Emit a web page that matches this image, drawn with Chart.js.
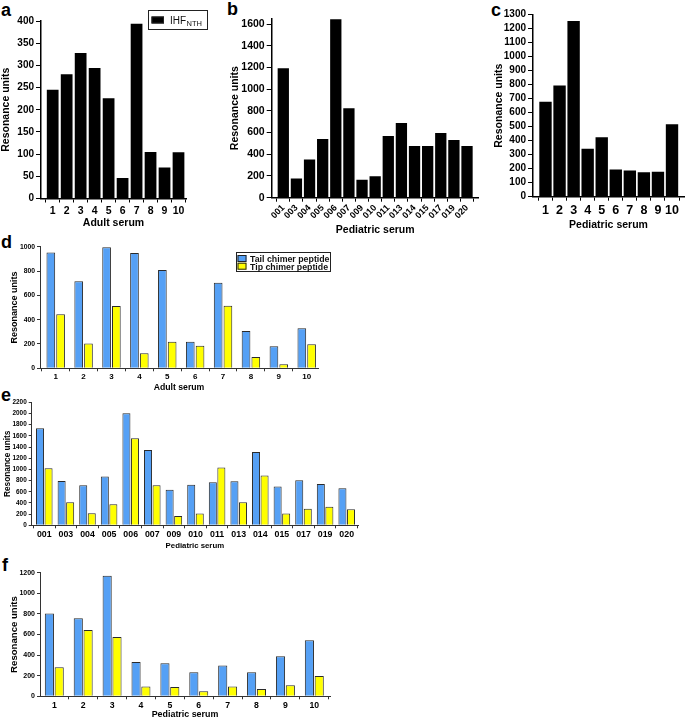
<!DOCTYPE html>
<html>
<head>
<meta charset="utf-8">
<script src="https://cdn.jsdelivr.net/npm/chart.js@4.4.1/dist/chart.umd.min.js"></script>
<style>
    body { margin: 0; background: #fff; }
    #fig { position: relative; width: 685px; height: 720px; overflow: hidden; font-family: "Liberation Sans", Arial, sans-serif; }
    #fig canvas { position: absolute; }
    .letter { position: absolute; font-weight: bold; font-size: 18px; line-height: 1; color: #000; }
</style>
</head>
<body>
<div id="fig">
    <div class="letter" style="left:1px;top:1px;">a</div>
    <div class="letter" style="left:227px;top:0px;">b</div>
    <div class="letter" style="left:491px;top:1px;">c</div>
    <div class="letter" style="left:1px;top:233px;">d</div>
    <div class="letter" style="left:1px;top:386px;">e</div>
    <div class="letter" style="left:2px;top:556px;">f</div>

    <canvas id="chartA" width="225" height="235" style="left:0;top:0;"></canvas>
    <canvas id="chartB" width="260" height="240" style="left:225px;top:0;"></canvas>
    <canvas id="chartC" width="195" height="235" style="left:490px;top:0;"></canvas>
    <canvas id="chartD" width="340" height="160" style="left:0;top:235px;"></canvas>
    <canvas id="chartE" width="370" height="160" style="left:0;top:395px;"></canvas>
    <canvas id="chartF" width="340" height="160" style="left:0;top:560px;"></canvas>
</div>
<script>
// values
const adultLabels = ['1', '2', '3', '4', '5', '6', '7', '8', '9', '10'];
const pedLabels = ['001', '003', '004', '005', '006', '007', '009', '010', '011', '013', '014', '015', '017', '019', '020'];
const ped10Labels = ['1', '2', '3', '4', '5', '6', '7', '8', '9', '10'];

const adultIhf = [245, 280, 328, 294, 226, 46, 394, 105, 70, 104];
const pedIhf = [1192, 178, 353, 540, 1643, 823, 166, 197, 568, 688, 477, 477, 595, 532, 477];
const ped10Ihf = [679, 795, 1255, 343, 424, 195, 188, 174, 179, 517];

const adultTail = [953, 715, 995, 948, 808, 219, 704, 307, 181, 329];
const adultTip = [444, 203, 512, 123, 219, 186, 515, 93, 33, 197];
const pedTail = [1735, 793, 716, 871, 2004, 1348, 638, 727, 769, 787, 1312, 692, 805, 739, 662];
const pedTip = [1020, 411, 215, 376, 1556, 716, 167, 209, 1032, 411, 889, 209, 298, 334, 286];
const ped10Tail = [805, 757, 1171, 333, 320, 233, 298, 233, 388, 543];
const ped10Tip = [281, 644, 576, 94, 91, 49, 94, 71, 107, 197];

const FONT = '"Liberation Sans", Arial, sans-serif';
const BLUE = '#55a0f5';
const YELLOW = '#ffff00';

// draws the boxed legends (the IHF one needs a subscript)
const boxLegendPlugin = {
    id: 'boxLegend',
    afterDraw(chart, args, opts) {
        if (!opts || !opts.items) return;
        const ctx = chart.ctx;
        const b = opts.box;
        ctx.save();
        ctx.fillStyle = '#fff';
        ctx.fillRect(b.x, b.y, b.w, b.h);
        ctx.strokeStyle = '#222';
        ctx.lineWidth = 1;
        ctx.strokeRect(b.x + 0.5, b.y + 0.5, b.w, b.h);
        opts.items.forEach((it, i) => {
            const y = b.y + opts.rowTop + i * opts.rowH;
            ctx.fillStyle = it.color;
            ctx.fillRect(b.x + opts.swX, y, opts.swW, opts.swH);
            ctx.strokeStyle = '#222';
            ctx.strokeRect(b.x + opts.swX + 0.5, y + 0.5, opts.swW - 1, opts.swH - 1);
            ctx.fillStyle = '#111';
            ctx.textBaseline = 'alphabetic';
            ctx.font = opts.font;
            const tx = b.x + opts.textX;
            const ty = y + opts.swH;
            ctx.fillText(it.text, tx, ty);
            if (it.sub) {
                const w = ctx.measureText(it.text).width;
                ctx.font = opts.subFont;
                ctx.fillText(it.sub, tx + w + 0.5, ty + 2.5);
            }
        });
        ctx.restore();
    }
};

function makeChart(id, o) {
    const datasets = o.series.map(s => ({
        label: s.label,
        data: s.values.map((v, i) => ({ x: i + 1, y: v })),
        backgroundColor: s.color,
        borderColor: s.border,
        borderWidth: s.borderWidth,
        borderSkipped: 'bottom',
        categoryPercentage: o.catPct,
        barPercentage: o.barPct
    }));
    return new Chart(document.getElementById(id), {
        type: 'bar',
        data: { datasets },
        options: {
            responsive: false,
            animation: false,
            layout: { padding: { top: o.padTop, right: o.padRight, left: 0, bottom: 0 } },
            plugins: {
                legend: { display: false },
                tooltip: { enabled: false },
                boxLegend: o.legend || {}
            },
            scales: {
                x: {
                    type: 'linear',
                    min: o.xMin,
                    max: o.xMax,
                    offset: false,
                    grid: { display: true, drawOnChartArea: false, drawTicks: true, tickLength: o.xTickLen, color: o.axisColor, lineWidth: 1 },
                    border: { color: o.axisColor, width: o.axisWidth },
                    ticks: {
                        stepSize: 1,
                        includeBounds: false,
                        autoSkip: false,
                        minRotation: o.rot,
                        maxRotation: o.rot,
                        padding: o.xPad,
                        color: '#000',
                        font: { family: FONT, size: o.xFont, weight: 'bold' },
                        callback: v => o.labels[v - 1] || ''
                    },
                    title: {
                        display: true,
                        text: o.xTitle,
                        color: '#000',
                        font: { family: FONT, size: o.xTitleFont, weight: 'bold' },
                        padding: { top: 0, bottom: o.xTitlePad }
                    },
                    afterFit: s => { s.height = o.xH; }
                },
                y: {
                    min: 0,
                    max: o.yMax,
                    grid: { display: true, drawOnChartArea: false, drawTicks: true, tickLength: o.yTickLen, color: o.axisColor, lineWidth: 1 },
                    border: { color: o.axisColor, width: o.axisWidth },
                    ticks: {
                        stepSize: o.yStep,
                        includeBounds: false,
                        autoSkip: false,
                        padding: 2,
                        color: '#000',
                        font: { family: FONT, size: o.yFont, weight: 'bold' },
                        callback: v => String(v)
                    },
                    title: {
                        display: true,
                        text: 'Resonance units',
                        color: '#000',
                        font: { family: FONT, size: o.yTitleFont, weight: 'bold' },
                        padding: { top: o.yTitlePad, bottom: 0 }
                    },
                    afterFit: s => { s.width = o.yW; }
                }
            }
        },
        plugins: [boxLegendPlugin]
    });
}

const blackBar = values => [{ label: 'IHFNTHi', values, color: '#000', border: '#000', borderWidth: 0 }];
const pairBars = (tail, tip) => [
    { label: 'Tail chimer peptide', values: tail, color: BLUE, border: '#2a2a2a', borderWidth: 1 },
    { label: 'Tip chimer peptide', values: tip, color: YELLOW, border: '#2a2a2a', borderWidth: 1 }
];
const pairLegend = {
    box: { x: 236, y: 17, w: 94, h: 19 },
    rowTop: 3, rowH: 7.7, swX: 1.5, swW: 9, swH: 7, textX: 14,
    font: 'bold 8.8px ' + FONT,
    items: [{ text: 'Tail chimer peptide', color: BLUE }, { text: 'Tip chimer peptide', color: YELLOW }]
};

// a
makeChart('chartA', {
    labels: adultLabels, series: blackBar(adultIhf),
    xMin: 0.164, xMax: 10.536, catPct: 1, barPct: 0.84,
    yMax: 400, yStep: 50,
    padTop: 21, padRight: 39, xH: 36.5, yW: 41,
    xFont: 10.5, yFont: 10, xTitle: 'Adult serum', xTitleFont: 10.5, xTitlePad: 5.4,
    yTitleFont: 10.5, yTitlePad: 0, xTickLen: 4, yTickLen: 5, xPad: 2, rot: 0,
    axisColor: '#000', axisWidth: 1.5,
    legend: {
        box: { x: 148, y: 10, w: 59, h: 19 },
        rowTop: 6.5, rowH: 0, swX: 3.5, swW: 12.5, swH: 7, textX: 22,
        font: '10px ' + FONT, subFont: '7.5px ' + FONT,
        items: [{ text: 'IHF', sub: 'NTH', color: '#000' }]
    }
});

// b
makeChart('chartB', {
    labels: pedLabels, series: blackBar(pedIhf),
    xMin: 0.116, xMax: 15.89, catPct: 1, barPct: 0.86,
    yMax: 1650, yStep: 200,
    padTop: 18.6, padRight: 6.3, xH: 42.3, yW: 46.7,
    xFont: 9, yFont: 10.5, xTitle: 'Pediatric serum', xTitleFont: 10.5, xTitlePad: 3.7,
    yTitleFont: 10.5, yTitlePad: 3.7, xTickLen: 4, yTickLen: 5, xPad: 1, rot: 45,
    axisColor: '#000', axisWidth: 1.5
});

// c
makeChart('chartC', {
    labels: ped10Labels, series: blackBar(ped10Ihf),
    xMin: 0.111, xMax: 10.853, catPct: 1, barPct: 0.88,
    yMax: 1300, yStep: 100,
    padTop: 14.7, padRight: 1, xH: 38.3, yW: 43,
    xFont: 12.5, yFont: 10, xTitle: 'Pediatric serum', xTitleFont: 10.5, xTitlePad: 3.7,
    yTitleFont: 10.5, yTitlePad: 3, xTickLen: 4, yTickLen: 5, xPad: 2, rot: 0,
    axisColor: '#000', axisWidth: 1.5
});

// d
makeChart('chartD', {
    labels: adultLabels, series: pairBars(adultTail, adultTip),
    xMin: 0.437, xMax: 10.405, catPct: 0.70, barPct: 0.89,
    yMax: 1000, yStep: 200,
    padTop: 11.7, padRight: 22, xH: 26.7, yW: 40,
    xFont: 8, yFont: 6.8, xTitle: 'Adult serum', xTitleFont: 8.7, xTitlePad: 2.1,
    yTitleFont: 9, yTitlePad: 9.6, xTickLen: 3, yTickLen: 3, xPad: 1, rot: 0,
    axisColor: '#333', axisWidth: 1,
    legend: pairLegend
});

// e
makeChart('chartE', {
    labels: pedLabels, series: pairBars(pedTail, pedTip),
    xMin: 0.417, xMax: 15.523, catPct: 0.79, barPct: 0.94,
    yMax: 2200, yStep: 200,
    padTop: 7.3, padRight: 12, xH: 29.7, yW: 31.7,
    xFont: 8.8, yFont: 6.4, xTitle: 'Pediatric serum', xTitleFont: 7.8, xTitlePad: 4.3,
    yTitleFont: 8.3, yTitlePad: 2.3, xTickLen: 3, yTickLen: 3, xPad: 1, rot: 0,
    axisColor: '#333', axisWidth: 1
});

// f
makeChart('chartF', {
    labels: ped10Labels, series: pairBars(ped10Tail, ped10Tip),
    xMin: 0.505, xMax: 10.543, catPct: 0.68, barPct: 0.93,
    yMax: 1200, yStep: 200,
    padTop: 12.7, padRight: 10, xH: 23.7, yW: 40,
    xFont: 8.7, yFont: 7, xTitle: 'Pediatric serum', xTitleFont: 8.9, xTitlePad: 0,
    yTitleFont: 9.6, yTitlePad: 8.7, xTickLen: 3, yTickLen: 3, xPad: 1, rot: 0,
    axisColor: '#333', axisWidth: 1
});
</script>
</body>
</html>
